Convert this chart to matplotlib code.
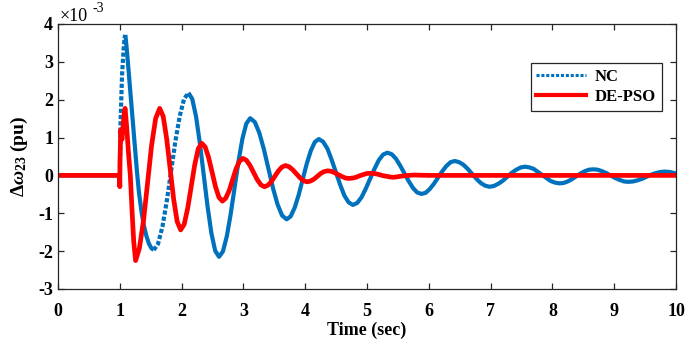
import numpy as np
import matplotlib
matplotlib.use("Agg")
import matplotlib.pyplot as plt
from matplotlib.lines import Line2D

plt.rcParams['font.family'] = ['Liberation Serif', 'DejaVu Serif']
plt.rcParams['font.weight'] = 'bold'
plt.rcParams['mathtext.fontset'] = 'custom'
plt.rcParams['mathtext.rm'] = 'Liberation Serif:bold'
plt.rcParams['mathtext.it'] = 'Liberation Serif:bold:italic'
plt.rcParams['mathtext.bf'] = 'Liberation Serif:bold'
plt.rcParams['axes.unicode_minus'] = False

# speed deviation, values in units of 1e-3 pu
t_nc = [0.0, 1.0, 1.005, 1.012, 1.036, 1.06, 1.078, 1.089,
        1.10, 1.13, 1.17, 1.21, 1.25, 1.28, 1.31, 1.35, 1.387, 1.43, 1.47, 1.51, 1.548,
        1.618, 1.689, 1.759, 1.829, 1.899, 1.970, 2.040, 2.110,
        2.172, 2.234, 2.296, 2.358, 2.419, 2.481, 2.543, 2.605,
        2.668, 2.731, 2.794, 2.858, 2.921, 2.984, 3.047, 3.110,
        3.184, 3.258, 3.331, 3.405, 3.479, 3.553, 3.626, 3.700,
        3.765, 3.830, 3.895, 3.960, 4.025, 4.090, 4.155, 4.220,
        4.289, 4.358, 4.426, 4.495, 4.564, 4.633, 4.701, 4.770,
        4.840, 4.910, 4.980, 5.050, 5.120, 5.190, 5.260, 5.330,
        5.399, 5.468, 5.536, 5.605, 5.674, 5.743, 5.811, 5.880,
        5.948, 6.015, 6.083, 6.150, 6.218, 6.285, 6.353, 6.420,
        6.490, 6.560, 6.630, 6.700, 6.770, 6.840, 6.910, 6.980,
        7.053, 7.125, 7.198, 7.270, 7.343, 7.415, 7.488, 7.560,
        7.629, 7.698, 7.766, 7.835, 7.904, 7.973, 8.041, 8.110,
        8.179, 8.248, 8.316, 8.385, 8.454, 8.523, 8.591, 8.660,
        8.731, 8.803, 8.874, 8.945, 9.016, 9.088, 9.159, 9.230,
        9.304, 9.378, 9.451, 9.525, 9.599, 9.673, 9.746, 9.820,
        9.900, 10.0]
nc = [0.0, 0.0, 0.6, 1.4, 2.65, 3.3, 3.65, 3.71,
      3.55, 3.0, 2.21, 1.42, 0.63, 0.05, -0.45, -0.95, -1.31, -1.6, -1.8, -1.92, -1.97,
      -1.81, -1.36, -0.69, 0.105, 0.90, 1.57, 2.02, 2.18,
      2.02, 1.55, 0.84, 0.015, -0.81, -1.52, -1.99, -2.15,
      -2.01, -1.61, -1.02, -0.32, 0.38, 0.97, 1.37, 1.51,
      1.41, 1.12, 0.69, 0.175, -0.34, -0.77, -1.06, -1.16,
      -1.08, -0.85, -0.51, -0.10, 0.31, 0.65, 0.88, 0.96,
      0.89, 0.71, 0.42, 0.09, -0.24, -0.53, -0.71, -0.78,
      -0.73, -0.58, -0.35, -0.09, 0.17, 0.40, 0.55, 0.60,
      0.56, 0.44, 0.26, 0.055, -0.15, -0.33, -0.45, -0.49,
      -0.46, -0.36, -0.22, -0.055, 0.11, 0.25, 0.35, 0.38,
      0.35, 0.28, 0.17, 0.04, -0.09, -0.20, -0.27, -0.30,
      -0.28, -0.22, -0.14, -0.035, 0.07, 0.15, 0.21, 0.23,
      0.21, 0.17, 0.09, 0.01, -0.07, -0.15, -0.19, -0.21,
      -0.20, -0.16, -0.10, -0.025, 0.05, 0.11, 0.15, 0.16,
      0.15, 0.11, 0.06, -0.005, -0.07, -0.12, -0.16, -0.17,
      -0.16, -0.13, -0.09, -0.035, 0.02, 0.06, 0.09, 0.10,
      0.09, 0.05]

t_pso = [0.0, 0.995, 1.0, 1.003, 1.015, 1.035, 1.055, 1.072, 1.085,
         1.11, 1.14, 1.17, 1.20, 1.225, 1.255,
         1.316, 1.382, 1.448, 1.513, 1.579, 1.645,
         1.702, 1.758, 1.815, 1.872, 1.928, 1.985,
         2.042, 2.098, 2.155, 2.212, 2.268, 2.325,
         2.381, 2.437, 2.493, 2.548, 2.604, 2.660,
         2.715, 2.770, 2.825, 2.880, 2.935, 2.990,
         3.048, 3.107, 3.165, 3.223, 3.282, 3.340,
         3.397, 3.453, 3.510, 3.567, 3.623, 3.680,
         3.738, 3.797, 3.855, 3.913, 3.972, 4.030,
         4.085, 4.140, 4.195, 4.250, 4.305, 4.360,
         4.418, 4.477, 4.535, 4.593, 4.652, 4.710,
         4.767, 4.823, 4.880, 4.937, 4.993, 5.050,
         5.113, 5.177, 5.240, 5.303, 5.367, 5.430,
         5.600, 5.750, 6.000, 10.0]
pso = [0.0, 0.0, -0.3, 0.4, 1.2, 0.95, 1.35, 1.65, 1.77,
       1.3, 0.6, 0.0, -1.0, -1.75, -2.25,
       -1.93, -1.21, -0.215, 0.78, 1.50, 1.77,
       1.56, 0.97, 0.165, -0.64, -1.22, -1.44,
       -1.29, -0.87, -0.295, 0.28, 0.70, 0.85,
       0.75, 0.47, 0.085, -0.30, -0.58, -0.68,
       -0.60, -0.40, -0.115, 0.17, 0.37, 0.45,
       0.40, 0.26, 0.075, -0.11, -0.25, -0.30,
       -0.26, -0.16, -0.02, 0.12, 0.22, 0.26,
       0.23, 0.15, 0.045, -0.06, -0.14, -0.17,
       -0.15, -0.10, -0.025, 0.05, 0.10, 0.12,
       0.11, 0.07, 0.02, -0.03, -0.07, -0.08,
       -0.07, -0.05, -0.01, 0.02, 0.05, 0.055,
       0.05, 0.03, 0.0, -0.02, -0.04, -0.05,
       -0.01, 0.01, 0.0, 0.0]

# stretches where the NC trace renders dotted (rising edges)
dotted_spans = [(1.0, 1.089), (1.548, 2.11)]

x_ticks = list(range(0, 11))
y_ticks = list(range(-3, 5))

blue = '#0072BD'
red = '#FF0000'

t_nc = np.array(t_nc)
nc = np.array(nc)
in_dots = np.zeros(len(t_nc), dtype=bool)
for a, b in dotted_spans:
    in_dots |= (t_nc > a) & (t_nc < b)
solid = nc.copy()
solid[in_dots] = np.nan
dots = np.where(in_dots | np.isin(t_nc, [s for span in dotted_spans for s in span]), nc, np.nan)

fig = plt.figure(figsize=(6.85, 3.42), dpi=100)
ax = fig.add_axes([0.0847, 0.155, 0.9022, 0.775])

ax.plot(t_nc, solid, color=blue, lw=3.0, solid_capstyle='butt')
ax.plot(t_nc, dots, color=blue, lw=3.0, linestyle=(0, (1.0, 0.5)))
ax.plot(t_pso, pso, color=red, lw=3.4)

ax.set_xlim(0, 10)
ax.set_ylim(-3, 4)
ax.set_xticks(x_ticks)
ax.set_yticks(y_ticks)
ax.tick_params(direction='in', length=4, width=0.9, top=True, right=True,
               labelsize=13, colors='#262626')
ax.tick_params(axis='x', pad=10)
ax.tick_params(axis='y', pad=3.5)
for lab in ax.get_xticklabels() + ax.get_yticklabels():
    lab.set_fontweight('bold')
    lab.set_color('black')
for s in ax.spines.values():
    s.set_color('#262626')
    s.set_linewidth(0.9)

ax.set_xlabel('Time (sec)', fontsize=13, fontweight='bold', labelpad=1)
ax.set_ylabel(r'$\Delta\omega_{23}$ (pu)', fontsize=14, fontweight='bold', labelpad=6)

ax.text(0.002, 1.011, '×10', transform=ax.transAxes, fontsize=13,
        fontweight='normal', ha='left', va='baseline')
ax.text(0.055, 1.045, '-3', transform=ax.transAxes, fontsize=10,
        fontweight='normal', ha='left', va='baseline')

handles = [Line2D([], [], color=blue, lw=2.2, linestyle=(0, (1.0, 0.6))),
           Line2D([], [], color=red, lw=3.0)]
leg = ax.legend(handles, ['NC', 'DE-PSO'], loc='upper right',
                bbox_to_anchor=(0.977, 0.853), borderaxespad=0,
                fancybox=False, framealpha=1, edgecolor='#262626',
                prop={'weight': 'bold', 'size': 12}, handlelength=3.0,
                handletextpad=0.5, borderpad=0.35, labelspacing=0.25)
leg.get_frame().set_linewidth(0.9)

fig.savefig('out.png', dpi=100)
